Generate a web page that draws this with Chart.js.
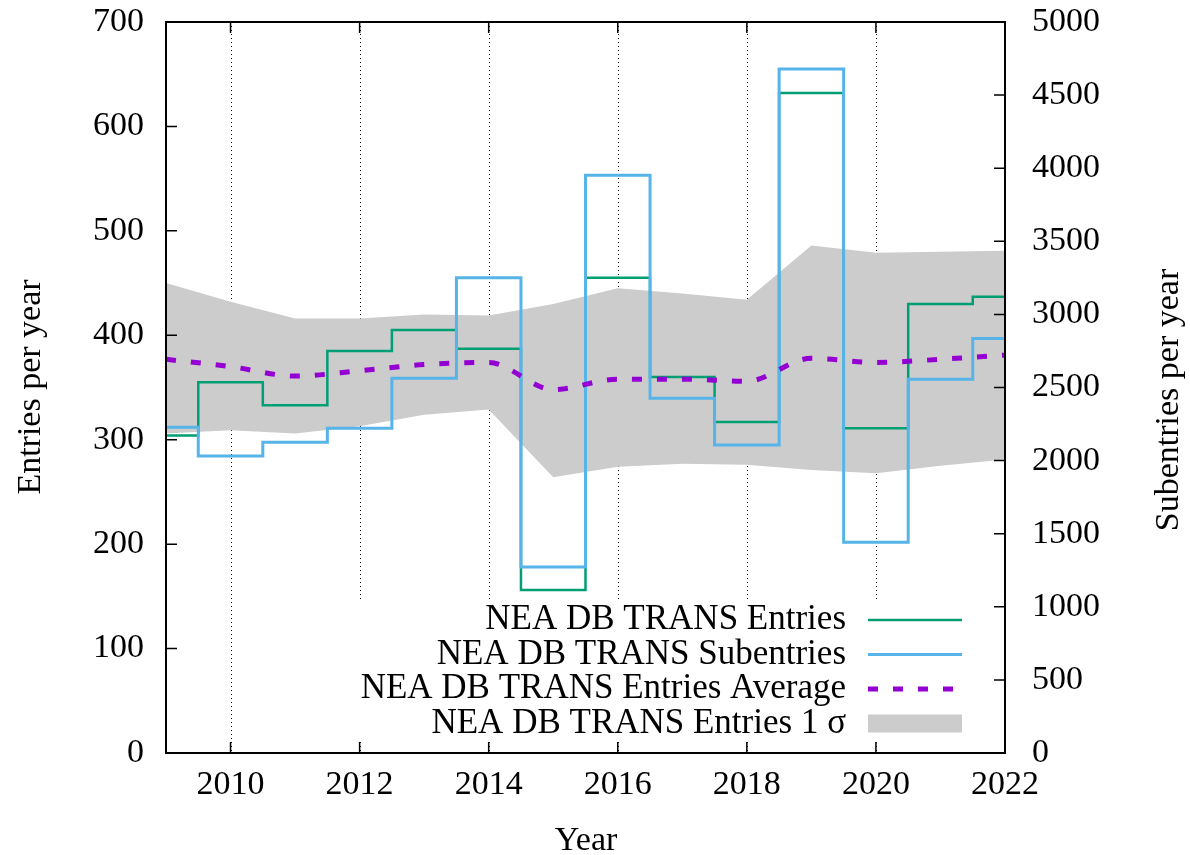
<!DOCTYPE html>
<html>
<head>
<meta charset="utf-8">
<script src="https://cdn.jsdelivr.net/npm/chart.js@4.4.1/dist/chart.umd.min.js"></script>
<style>
  html, body { margin: 0; padding: 0; background: #fff; }
  #wrap { width: 1190px; height: 855px; }
</style>
</head>
<body>
<div id="wrap"><canvas id="transChart" width="1190" height="855"></canvas></div>
<script>
// data
const years = [2009, 2010, 2011, 2012, 2013, 2014, 2015, 2016, 2017, 2018, 2019, 2020, 2021, 2022];
const entries = [304, 355, 333, 385, 405, 387, 156, 455, 360, 317, 632, 311, 430, 437];
const subentries = [2228, 2031, 2125, 2221, 2563, 3251, 1272, 3951, 2426, 2107, 4679, 1441, 2556, 2836];
const entriesAverage = [377, 370, 361, 366, 372, 374, 348, 358, 358, 356, 378, 374, 377, 381];
const sigmaUpper = [450, 432, 416, 416, 420, 419, 430, 445, 440, 434, 486, 479, 480, 481];
const sigmaLower = [306, 309, 306, 313, 324, 329, 264, 274, 277, 276, 271, 268, 275, 281];

const xTickYears = [2010, 2012, 2014, 2016, 2018, 2020, 2022];
const leftTicks = [0, 100, 200, 300, 400, 500, 600, 700];
const rightTicks = [0, 500, 1000, 1500, 2000, 2500, 3000, 3500, 4000, 4500, 5000];

const legendLabels = [
    'NEA DB TRANS Entries',
    'NEA DB TRANS Subentries',
    'NEA DB TRANS Entries Average',
    'NEA DB TRANS Entries 1 σ'
];

const GREEN = '#009e73';
const BLUE = '#56b4e9';
const PURPLE = '#9400d3';
const BAND = '#cccccc';
const FONT = '"Liberation Serif", "DejaVu Serif", serif';
const FONT_SIZE = 34;

function toPoints(values) {
    return years.map((yr, i) => ({ x: yr, y: values[i] }));
}

// keep the plot box fixed, no extra room for half labels
function fixBox(scale, w, h) {
    if (w) scale.width = w;
    if (h) scale.height = h;
    scale.paddingTop = 0;
    scale.paddingBottom = 0;
    scale.paddingLeft = 0;
    scale.paddingRight = 0;
}

// gnuplot-like frame: dotted grid, opaque key, inward ticks, titles
const gnuplotFrame = {
    id: 'gnuplotFrame',
    beforeDraw(chart) {
        const { ctx, chartArea: a, scales: { x } } = chart;
        ctx.save();
        ctx.strokeStyle = '#000';
        ctx.lineWidth = 1;
        ctx.setLineDash([1, 3]);
        xTickYears.forEach(yr => {
            const px = Math.round(x.getPixelForValue(yr)) + 0.5;
            if (px >= a.right - 1) return;
            ctx.beginPath();
            ctx.moveTo(px, a.top);
            ctx.lineTo(px, a.bottom);
            ctx.stroke();
        });
        ctx.setLineDash([]);
        // key background covers the grid
        ctx.fillStyle = '#fff';
        ctx.fillRect(350, 601, a.right - 351, 140);
        ctx.restore();
    },
    afterDraw(chart) {
        const { ctx, chartArea: a, scales: { x, y, y2 } } = chart;
        ctx.save();

        // ticks pointing inward
        ctx.strokeStyle = '#000';
        ctx.lineWidth = 1.5;
        const tl = 11;
        ctx.beginPath();
        leftTicks.forEach(v => {
            const py = y.getPixelForValue(v);
            ctx.moveTo(a.left, py);
            ctx.lineTo(a.left + tl, py);
        });
        rightTicks.forEach(v => {
            const py = y2.getPixelForValue(v);
            ctx.moveTo(a.right, py);
            ctx.lineTo(a.right - tl, py);
        });
        xTickYears.forEach(yr => {
            const px = x.getPixelForValue(yr);
            ctx.moveTo(px, a.bottom);
            ctx.lineTo(px, a.bottom - tl);
            ctx.moveTo(px, a.top);
            ctx.lineTo(px, a.top + tl);
        });
        ctx.stroke();

        // border
        ctx.lineWidth = 2;
        ctx.strokeRect(a.left, a.top, a.right - a.left, a.bottom - a.top);

        // key
        ctx.font = '35px ' + FONT;
        ctx.fillStyle = '#000';
        ctx.textAlign = 'right';
        ctx.textBaseline = 'middle';
        const rows = [620, 654.5, 689, 723.5];
        const sx0 = 868, sx1 = 962;
        legendLabels.forEach((label, i) => {
            ctx.fillText(label, 846, rows[i]);
        });
        ctx.lineWidth = 2.5;
        ctx.strokeStyle = GREEN;
        ctx.beginPath(); ctx.moveTo(sx0, rows[0]); ctx.lineTo(sx1, rows[0]); ctx.stroke();
        ctx.lineWidth = 3;
        ctx.strokeStyle = BLUE;
        ctx.beginPath(); ctx.moveTo(sx0, rows[1]); ctx.lineTo(sx1, rows[1]); ctx.stroke();
        ctx.lineWidth = 5;
        ctx.strokeStyle = PURPLE;
        ctx.setLineDash([10, 15]);
        ctx.beginPath(); ctx.moveTo(sx0, rows[2]); ctx.lineTo(sx1, rows[2]); ctx.stroke();
        ctx.setLineDash([]);
        ctx.fillStyle = BAND;
        ctx.fillRect(sx0, rows[3] - 9, sx1 - sx0, 18);

        // axis titles
        ctx.font = FONT_SIZE + 'px ' + FONT;
        ctx.fillStyle = '#000';
        ctx.textAlign = 'center';
        ctx.textBaseline = 'alphabetic';
        ctx.fillText('Year', 586, 850);

        ctx.save();
        ctx.translate(40, 387);
        ctx.rotate(-Math.PI / 2);
        ctx.fillText('Entries per year', 0, 0);
        ctx.restore();

        ctx.save();
        ctx.translate(1178, 400);
        ctx.rotate(-Math.PI / 2);
        ctx.fillText('Subentries per year', 0, 0);
        ctx.restore();

        ctx.restore();
    }
};

const tickFont = { family: FONT, size: FONT_SIZE };

new Chart(document.getElementById('transChart'), {
    type: 'line',
    data: {
        datasets: [
            {
                label: 'sigma upper',
                data: toPoints(sigmaUpper),
                yAxisID: 'y',
                borderColor: 'rgba(0,0,0,0)',
                borderWidth: 0,
                backgroundColor: BAND,
                fill: '+1',
                pointRadius: 0,
                tension: 0,
                order: 4
            },
            {
                label: 'sigma lower',
                data: toPoints(sigmaLower),
                yAxisID: 'y',
                borderColor: 'rgba(0,0,0,0)',
                borderWidth: 0,
                fill: false,
                pointRadius: 0,
                tension: 0,
                order: 5
            },
            {
                label: legendLabels[0],
                data: toPoints(entries),
                yAxisID: 'y',
                borderColor: GREEN,
                borderWidth: 2.5,
                stepped: 'middle',
                fill: false,
                pointRadius: 0,
                order: 3
            },
            {
                label: legendLabels[1],
                data: toPoints(subentries),
                yAxisID: 'y2',
                borderColor: BLUE,
                borderWidth: 3,
                stepped: 'middle',
                fill: false,
                pointRadius: 0,
                order: 2
            },
            {
                label: legendLabels[2],
                data: toPoints(entriesAverage),
                yAxisID: 'y',
                borderColor: PURPLE,
                borderWidth: 5,
                borderDash: [10, 15],
                borderCapStyle: 'butt',
                cubicInterpolationMode: 'monotone',
                fill: false,
                pointRadius: 0,
                order: 1
            }
        ]
    },
    options: {
        responsive: false,
        animation: false,
        events: [],
        layout: { padding: { top: 22, left: 0, right: 0, bottom: 0 } },
        plugins: {
            legend: { display: false },
            tooltip: { enabled: false }
        },
        scales: {
            x: {
                type: 'linear',
                min: 2009,
                max: 2022,
                grid: { display: false, drawTicks: false },
                border: { display: false },
                afterBuildTicks: scale => { scale.ticks = xTickYears.map(v => ({ value: v })); },
                afterFit: scale => fixBox(scale, 0, 102),
                ticks: {
                    font: tickFont,
                    color: '#000',
                    padding: 12,
                    maxRotation: 0,
                    autoSkip: false,
                    callback: v => String(v)
                }
            },
            y: {
                position: 'left',
                min: 0,
                max: 700,
                grid: { display: false, drawTicks: false },
                border: { display: false },
                afterBuildTicks: scale => { scale.ticks = leftTicks.map(v => ({ value: v })); },
                afterFit: scale => fixBox(scale, 166, 0),
                ticks: { font: tickFont, color: '#000', padding: 22, callback: v => String(v) }
            },
            y2: {
                position: 'right',
                min: 0,
                max: 5000,
                grid: { display: false, drawTicks: false },
                border: { display: false },
                afterBuildTicks: scale => { scale.ticks = rightTicks.map(v => ({ value: v })); },
                afterFit: scale => fixBox(scale, 185, 0),
                ticks: { font: tickFont, color: '#000', padding: 27, callback: v => String(v) }
            }
        }
    },
    plugins: [gnuplotFrame]
});
</script>
</body>
</html>
